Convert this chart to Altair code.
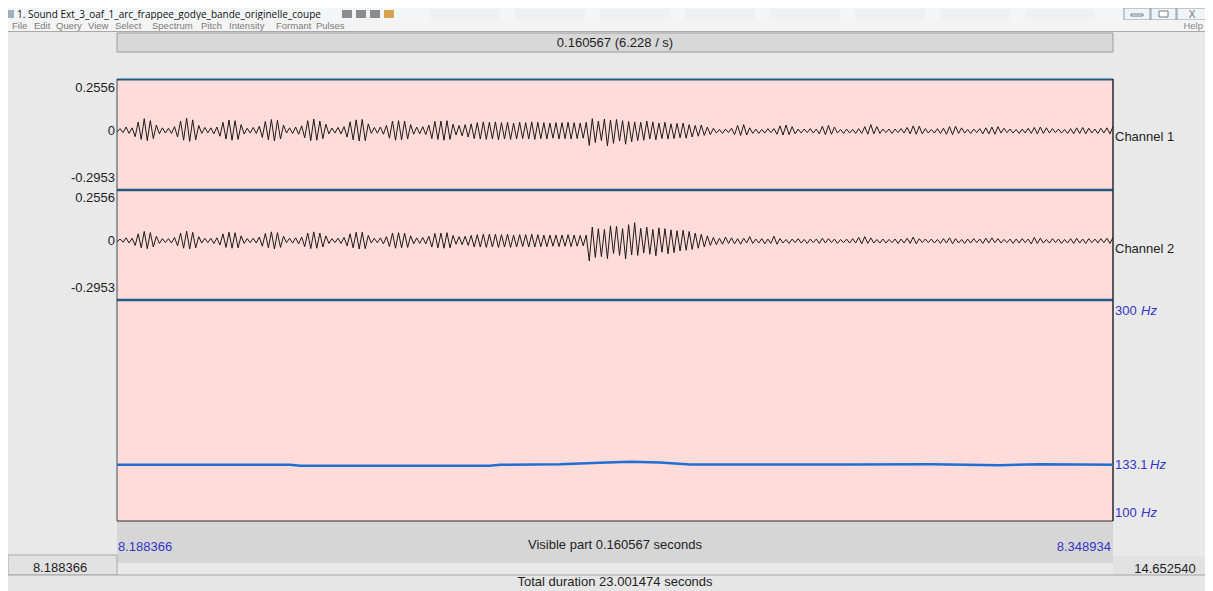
import altair as alt
import numpy as np
import pandas as pd

# ---------------- data ----------------
T_START = 8.188366
T_END = 8.348934
AMP_TOP = 0.2556
AMP_BOTTOM = -0.2953
F0_BOTTOM = 100
F0_TOP = 300

# channel 1 waveform extremes (thousandths of full scale), left to right
CH1 = [
    -5, 12, -8, 20, -12, 16, -28, 45, -42, 62, -48, 52, -38, 30,
    -14, 16, -10, 14, -12, 22, -30, 50, -46, 64, -52, 56, -44, 28,
    -12, 18, -9, 16, -14, 20, -26, 44, -40, 55, -46, 52, -42, 32,
    -15, 14, -10, 18, -12, 24, -32, 48, -44, 58, -50, 54, -40, 30,
    -10, 16, -12, 20, -16, 26, -34, 52, -48, 60, -46, 50, -38, 34,
    -14, 15, -10, 18, -14, 22, -30, 46, -44, 56, -50, 58, -48, 36,
    -12, 18, -11, 20, -16, 28, -36, 50, -46, 52, -44, 50, -40, 32,
    -16, 20, -14, 22, -18, 30, -38, 48, -42, 50, -46, 52, -42, 34,
    -20, 28, -24, 32, -30, 36,
    -38, 42, -40, 46, -42, 44, -40, 46, -44, 42, -40, 44, -42, 40,
    -40, 44, -38, 42, -40, 46, -42, 44, -38, 42, -40, 40, -36, 42,
    -40, 42, -38, 44, -40, 42, -38, 40, -36, 44,
    -72, 62, -58, 50, -48, 60, -75, 55, -62, 58, -50, 52, -66, 48, -54, 46,
    -48, 44, -46, 50, -40, 46, -44, 40, -38, 44, -40, 36, -38, 38, -34, 40, -36, 32,
    -30, 28, -26, 30, -22, 20, -18, 14,
    -10, 8, -12, 10, -8, 14, -18, 28, -22, 32, -20, 16, -12, 10,
    -12, 8, -10, 12, -8, 12, -16, 26, -20, 30, -18, 22, -14, 10,
    -10, 10, -8, 12, -10, 10, -14, 24, -18, 28, -16, 20, -10, 8,
    -12, 10, -10, 8, -12, 12, -12, 22, -16, 32, -14, 22, -12, 10,
    -8, 10, -12, 10, -8, 12, -10, 18, -14, 26, -16, 24, -14, 12,
    -10, 8, -10, 12, -12, 14, -16, 22, -18, 24, -12, 16, -10, 8,
    -12, 10, -8, 12, -14, 16, -14, 20, -16, 22, -10, 14, -8, 10,
    -10, 8, -12, 10, -10, 14, -12, 18, -14, 20, -12, 16, -10, 12,
    -8, 10, -10, 8, -12, 12, -14, 16, -12, 18, -14, 14, -10, 10,
    -12, 14, -10, 16, -14, 22,
]

# channel 2 waveform extremes (thousandths of full scale), left to right
CH2 = [
    -4, 10, -6, 16, -10, 14, -22, 36, -34, 48, -38, 42, -30, 24,
    -12, 12, -8, 12, -10, 18, -24, 40, -36, 50, -40, 44, -34, 22,
    -10, 14, -8, 14, -12, 16, -20, 36, -32, 44, -36, 42, -34, 26,
    -12, 12, -8, 14, -10, 20, -26, 38, -34, 46, -40, 42, -32, 24,
    -8, 14, -10, 16, -14, 20, -28, 40, -38, 46, -36, 40, -30, 26,
    -12, 12, -8, 14, -12, 18, -24, 36, -34, 44, -40, 44, -38, 28,
    -10, 14, -9, 16, -14, 22, -28, 40, -36, 42, -34, 40, -32, 26,
    -14, 16, -12, 18, -14, 24, -30, 38, -34, 40, -36, 42, -34, 28,
    -16, 22, -18, 24, -22, 28,
    -30, 32, -30, 34, -32, 34, -30, 34, -32, 32, -30, 34, -32, 30,
    -30, 32, -28, 32, -30, 34, -30, 32, -28, 30, -28, 30, -26, 30,
    -28, 30, -26, 32, -28, 30, -26, 28, -24, 30,
    -100, 70, -82, 62, -78, 58, -88, 76, -62, 74, -72, 62, -90, 82, -70, 92,
    -72, 64, -60, 70, -66, 58, -74, 66, -56, 62, -64, 56, -58, 52, -50, 54, -46, 48,
    -42, 40, -36, 34, -30, 26, -22, 18,
    -18, 14, -16, 20, -12, 16, -14, 12, -16, 14, -10, 22, -12, 10,
    -10, 12, -14, 10, -12, 24, -16, 12, -10, 8, -12, 10, -8, 12,
    -10, 8, -12, 10, -8, 10, -12, 14, -10, 12, -8, 10, -12, 8,
    -8, 10, -10, 12, -10, 18, -14, 22, -12, 16, -10, 8, -10, 10,
    -10, 8, -8, 10, -12, 10, -10, 14, -12, 20, -14, 12, -8, 10,
    -8, 10, -10, 8, -12, 12, -10, 16, -14, 12, -10, 8, -12, 10,
    -10, 12, -8, 10, -12, 14, -10, 16, -8, 12, -10, 8, -8, 10,
    -12, 10, -10, 12, -8, 10, -14, 18, -12, 14, -10, 8, -10, 12,
    -8, 10, -12, 8, -10, 12, -12, 14, -10, 10, -12, 12, -8, 10,
    -10, 12, -8, 14, -12, 18,
]

PITCH_T = [8.1884, 8.2163, 8.2179, 8.2485, 8.2501, 8.2598, 8.2662, 8.2711,
           8.2759, 8.2808, 8.3065, 8.3195, 8.3307, 8.3372, 8.3436, 8.3489]
PITCH_HZ = [133.1, 133.1, 132.5, 132.5, 133.1, 133.4, 134.5, 135.1,
            134.6, 133.2, 133.3, 133.5, 132.8, 133.4, 133.3, 133.1]

# ---------------- texts ----------------
WINDOW_TITLE = "1. Sound Ext_3_oaf_1_arc_frappee_godye_bande_originelle_coupe"
MENU_ITEMS = ["File", "Edit", "Query", "View", "Select", "Spectrum",
              "Pitch", "Intensity", "Formant", "Pulses"]
HELP_ITEM = "Help"
TOP_TEXT = "0.160567 (6.228 / s)"
AMP_LABELS = ["0.2556", "0", "-0.2953"]
CHANNEL_LABELS = ["Channel 1", "Channel 2"]
PITCH_LABELS = ["300", "133.1", "100"]
HZ = "Hz"
LEFT_TIME = "8.188366"
RIGHT_TIME = "8.348934"
VISIBLE_TEXT = "Visible part 0.160567 seconds"
WINDOW_START = "8.188366"
WINDOW_END = "14.652540"
TOTAL_TEXT = "Total duration 23.001474 seconds"

# ---------------- layout (screen pixels of the reference) ----------------
OX, OY = 8, 8
W, H = 1197, 583
PX0, PX1 = 117, 1113      # plot area left/right
PY0, PY1 = 79, 521        # plot area top/bottom
CH1_Y = (80, 190)
CH2_Y = (190, 300)
PITCH_Y = (302, 522)
MENU_X = [12, 34, 56, 88, 115, 152, 201, 229, 276, 316]
FONT = "Liberation Sans"

one = alt.Data(values=[{"k": 0}])


def rect(x1, y1, x2, y2, fill, stroke="", sw=1.0):
    kw = dict(fill=fill)
    if stroke:
        kw.update(stroke=stroke, strokeWidth=sw)
    else:
        kw.update(strokeWidth=0)
    return alt.Chart(one).mark_rect(**kw).encode(
        x=alt.value(x1 - OX), x2=alt.value(x2 - OX),
        y=alt.value(y1 - OY), y2=alt.value(y2 - OY))


def hline(x1, x2, y, color, sw=1.0):
    return alt.Chart(one).mark_rule(color=color, strokeWidth=sw).encode(
        x=alt.value(x1 - OX), x2=alt.value(x2 - OX), y=alt.value(y - OY))


def vline(x, y1, y2, color, sw=1.0):
    return alt.Chart(one).mark_rule(color=color, strokeWidth=sw).encode(
        x=alt.value(x - OX), y=alt.value(y1 - OY), y2=alt.value(y2 - OY))


def label(txt, x, y, size=13, color="#1e1e1e", align="left", italic=False,
          font=FONT, baseline="middle"):
    kw = dict(text=txt, fontSize=size, color=color, align=align,
              baseline=baseline, font=font)
    if italic:
        kw["fontStyle"] = "italic"
    return alt.Chart(one).mark_text(**kw).encode(
        x=alt.value(x - OX), y=alt.value(y - OY))


layers = []

# window background
layers.append(rect(0, 0, 1213, 591, "#e9e9e9"))
# title bar
layers.append(rect(0, 0, 1213, 20, "#f3f6f9"))
layers.append(rect(8, 10, 14, 18, "#9fb0c0"))
layers.append(label(WINDOW_TITLE, 17, 14.5, size=10, color="#111111",
                    font="Open Sans"))
for i, c in enumerate(["#8c8c8c", "#8c8c8c", "#8c8c8c", "#d8a24e"]):
    layers.append(rect(342 + i * 14, 10, 352 + i * 14, 18, c))
for i in range(8):
    layers.append(rect(430 + i * 85, 9, 500 + i * 85, 19, "#eef0f3"))
# window buttons
layers.append(rect(1124, 8, 1150, 20, "#f1f4f7", "#8d9aa8"))
layers.append(rect(1151, 8, 1176, 20, "#f1f4f7", "#8d9aa8"))
layers.append(rect(1177, 8, 1209, 20, "#f1f4f7", "#8d9aa8"))
layers.append(rect(1131, 14, 1143, 16, "#ffffff", "#6f7d8c"))
layers.append(rect(1159, 11, 1168, 17, "#ffffff", "#6f7d8c"))
layers.append(label("X", 1192, 14.5, size=10, color="#6f6f6f", align="center"))

# menu bar
layers.append(rect(0, 20, 1213, 32, "#f4f4f4"))
layers.append(hline(0, 1213, 31.5, "#a9a9a9"))
for name, mx in zip(MENU_ITEMS, MENU_X):
    layers.append(label(name, mx, 26, size=9.5, color="#7b7b7b"))
layers.append(label(HELP_ITEM, 1203, 26, size=9.5, color="#8a8a8a", align="right"))

# top bar with selection duration
layers.append(rect(PX0, 33, PX1, 52, "#d8d8d8", "#9b9b9b"))
layers.append(label(TOP_TEXT, (PX0 + PX1) / 2, 43, size=13, align="center"))

# bottom bars
layers.append(rect(PX0, 521, PX1, 563, "#d6d6d6"))
layers.append(rect(8, 555, PX0, 575, "#e2e2e2", "#a8a8a8"))
layers.append(rect(PX1, 556, 1213, 575, "#e2e2e2"))
layers.append(rect(0, 575, 1213, 591, "#e6e6e6"))
layers.append(hline(0, 1213, 575, "#a4a4a4"))

# plot area
layers.append(rect(PX0, PY0, PX1, PY1, "#ffdcd9"))
layers.append(hline(PX0, PX1, 79.5, "#1d5b83", 2))
layers.append(hline(PX0, PX1, 190, "#1d5b83", 2.5))
layers.append(hline(PX0, PX1, 300, "#1d5b83", 2.5))
layers.append(vline(PX0, PY0, PY1, "#3d4d55", 1))
layers.append(vline(PX1, PY0, PY1, "#1f2b33", 1.5))
layers.append(hline(PX0, PX1, PY1, "#2f2f2f", 1))

# amplitude labels
for (top, bottom) in (CH1_Y, CH2_Y):
    zero_y = bottom - (0 - AMP_BOTTOM) / (AMP_TOP - AMP_BOTTOM) * (bottom - top)
    layers.append(label(AMP_LABELS[0], 115, top + 8, align="right"))
    layers.append(label(AMP_LABELS[1], 115, zero_y, align="right"))
    layers.append(label(AMP_LABELS[2], 115, bottom - 12, align="right"))
layers.append(label(CHANNEL_LABELS[0], 1115, 137))
layers.append(label(CHANNEL_LABELS[1], 1115, 249))

BLUE = "#3434c6"
layers.append(label(PITCH_LABELS[0], 1115, 311, color=BLUE))
layers.append(label(HZ, 1141, 311, color=BLUE, italic=True))
layers.append(label(PITCH_LABELS[1], 1115, 465, color=BLUE))
layers.append(label(HZ, 1150, 465, color=BLUE, italic=True))
layers.append(label(PITCH_LABELS[2], 1115, 513, color=BLUE))
layers.append(label(HZ, 1141, 513, color=BLUE, italic=True))

layers.append(label(LEFT_TIME, 118, 547, color=BLUE))
layers.append(label(RIGHT_TIME, 1111, 547, color=BLUE, align="right"))
layers.append(label(VISIBLE_TEXT, (PX0 + PX1) / 2, 545, align="center"))
layers.append(label(WINDOW_START, 60, 568, align="center"))
layers.append(label(WINDOW_END, 1165, 569, align="center"))
layers.append(label(TOTAL_TEXT, (PX0 + PX1) / 2, 582, align="center"))

# ---------------- data marks ----------------
x_scale = alt.Scale(domain=[T_START, T_END], range=[PX0 - OX, PX1 - OX],
                    nice=False, zero=False)

w1 = pd.DataFrame({"t": np.linspace(T_START, T_END, len(CH1)),
                   "a1": np.array(CH1) / 1000.0})
w2 = pd.DataFrame({"t": np.linspace(T_START, T_END, len(CH2)),
                   "a2": np.array(CH2) / 1000.0})
pitch = pd.DataFrame({"t": PITCH_T, "f0": PITCH_HZ})

wave1 = alt.Chart(w1).mark_line(color="#1b1b1b", strokeWidth=1).encode(
    x=alt.X("t:Q", scale=x_scale, axis=None),
    y=alt.Y("a1:Q", axis=None,
            scale=alt.Scale(domain=[AMP_BOTTOM, AMP_TOP],
                            range=[CH1_Y[1] - OY, CH1_Y[0] - OY],
                            nice=False, zero=False)))
wave2 = alt.Chart(w2).mark_line(color="#1b1b1b", strokeWidth=1).encode(
    x=alt.X("t:Q", scale=x_scale, axis=None),
    y=alt.Y("a2:Q", axis=None,
            scale=alt.Scale(domain=[AMP_BOTTOM, AMP_TOP],
                            range=[CH2_Y[1] - OY, CH2_Y[0] - OY],
                            nice=False, zero=False)))
pitch_line = alt.Chart(pitch).mark_line(color="#1f6ed4", strokeWidth=2.5).encode(
    x=alt.X("t:Q", scale=x_scale, axis=None),
    y=alt.Y("f0:Q", axis=None,
            scale=alt.Scale(type="log", domain=[F0_BOTTOM, F0_TOP],
                            range=[PITCH_Y[1] - OY, PITCH_Y[0] - OY],
                            nice=False, zero=False)))

layers += [wave1, wave2, pitch_line]

chart = alt.layer(*layers).resolve_scale(y="independent").properties(
    width=W, height=H, padding=0,
    autosize=alt.AutoSizeParams(type="none"),
).configure_view(strokeWidth=0)

chart.save("out.html", embed_options={"renderer": "svg", "actions": False})
